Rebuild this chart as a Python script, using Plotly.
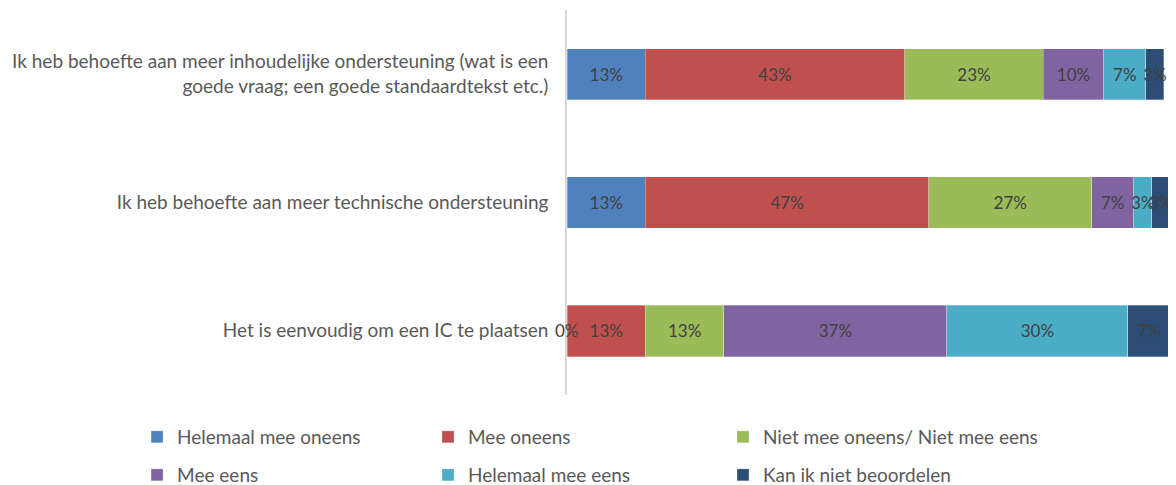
import plotly.graph_objects as go

categories = [
    "Ik heb behoefte aan meer inhoudelijke ondersteuning (wat is een<br>goede vraag; een goede standaardtekst etc.)",
    "Ik heb behoefte aan meer technische ondersteuning",
    "Het is eenvoudig om een IC te plaatsen",
]
series_names = [
    "Helemaal mee oneens",
    "Mee oneens",
    "Niet mee oneens/ Niet mee eens",
    "Mee eens",
    "Helemaal mee eens",
    "Kan ik niet beoordelen",
]
helemaal_mee_oneens = [13, 13, 0]
mee_oneens = [43, 47, 13]
niet_mee_oneens = [23, 27, 13]
mee_eens = [10, 7, 37]
helemaal_mee_eens = [7, 3, 30]
kan_niet = [3, 3, 7]

series_values = [helemaal_mee_oneens, mee_oneens, niet_mee_oneens,
                 mee_eens, helemaal_mee_eens, kan_niet]
colors = ["#4F81BD", "#C0504D", "#9BBB59", "#8064A2", "#4BACC6", "#2C4D75"]

FONT = "Lato, Liberation Sans, Arial, sans-serif"

legend_ids = ["legend", "legend2", "legend3", "legend4", "legend5", "legend6"]
legend_x = [-0.713, -0.2305, 0.2587]
legend_y = [0.1155, 0.0371]

fig = go.Figure()
for i, (name, vals, col) in enumerate(zip(series_names, series_values, colors)):
    fig.add_trace(go.Bar(
        y=categories, x=vals, name=name, orientation="h",
        marker=dict(color=col, line=dict(color="rgba(255,255,255,0.6)", width=0.5)),
        text=[f"{v}%" for v in vals],
        textposition="inside", insidetextanchor="middle", textangle=0,
        textfont=dict(color="#404040", size=17, family=FONT),
        legend=legend_ids[i],
    ))

# zero-valued segments get their label at the bar origin
for vals in series_values:
    for cat, v in zip(categories, vals):
        if v == 0:
            fig.add_annotation(x=0, y=cat, text=f"{v}%", showarrow=False,
                               font=dict(color="#404040", size=17, family=FONT))

legends = {}
for i, lid in enumerate(legend_ids):
    legends[lid] = dict(orientation="h", x=legend_x[i % 3], xanchor="left",
                        y=legend_y[i // 3], yanchor="middle", yref="container",
                        font=dict(size=19, color="#595959", family=FONT),
                        bgcolor="rgba(0,0,0,0)")

fig.update_layout(
    width=1176, height=485,
    margin=dict(l=559, r=14, t=2, b=98),
    barmode="stack", bargap=0.6,
    plot_bgcolor="white", paper_bgcolor="white",
    font=dict(family=FONT, color="#404040"),
    uniformtext=dict(mode="show", minsize=17),
    xaxis=dict(range=[0, 100], visible=False, fixedrange=True),
    yaxis=dict(autorange="reversed", showline=True, linecolor="#D9D9D9", linewidth=1.5,
               ticks="", showgrid=False, ticklabelstandoff=13,
               tickfont=dict(size=19, color="#595959", family=FONT)),
    showlegend=True,
    **legends,
)

fig.write_html("out.html")
